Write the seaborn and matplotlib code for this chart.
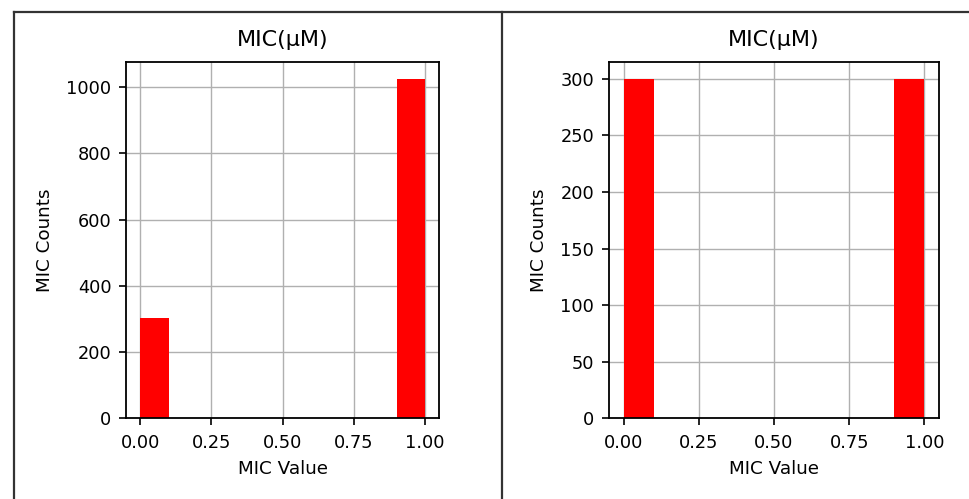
import numpy as np
import seaborn as sns
import matplotlib.pyplot as plt
from matplotlib.lines import Line2D

# MIC values (binary) and how often each one occurs
mic_values = [0.0, 1.0]
left_counts = [304, 1025]
right_counts = [300, 300]

title = "MIC(μM)"
xlabel = "MIC Value"
ylabel = "MIC Counts"

plt.rcParams['font.family'] = ['DejaVu Sans']
plt.rcParams['axes.linewidth'] = 1.3
plt.rcParams['xtick.major.width'] = 1.2
plt.rcParams['ytick.major.width'] = 1.2
plt.rcParams['xtick.major.size'] = 5
plt.rcParams['ytick.major.size'] = 5
plt.rcParams['xtick.major.pad'] = 6
plt.rcParams['ytick.major.pad'] = 5.5

fig = plt.figure(figsize=(9.69, 4.99), dpi=100)
ax1 = fig.add_axes([0.1300, 0.1617, 0.3233, 0.7146])
ax2 = fig.add_axes([0.6282, 0.1617, 0.3412, 0.7146])


def draw(ax, counts):
    sns.histplot(x=mic_values, weights=counts, bins=10, binrange=(0, 1),
                 color="#ff0000", alpha=1, linewidth=0, ax=ax)
    ax.grid(True, color="#b0b0b0", linewidth=1)
    ax.set_axisbelow(True)
    ax.set_title(title, fontsize=16, pad=11)
    ax.set_xlabel(xlabel, fontsize=13.2, labelpad=6)
    ax.set_ylabel(ylabel, fontsize=13.2, labelpad=9)
    ax.tick_params(labelsize=12.8)
    ax.set_xticks([0, 0.25, 0.5, 0.75, 1.0])
    ax.set_xlim(-0.05, 1.05)


draw(ax1, left_counts)
draw(ax2, right_counts)

# table-like frame around the two panels
W, H = 969, 499
frame = dict(color="#333333", linewidth=1.6, transform=fig.transFigure)
fig.add_artist(Line2D([13.5 / W, 1.0], [1 - 11.5 / H, 1 - 11.5 / H], **frame))
fig.add_artist(Line2D([13.5 / W, 13.5 / W], [0, 1 - 11.5 / H], **frame))
fig.add_artist(Line2D([502.3 / W, 502.3 / W], [0, 1 - 11.5 / H], **frame))

fig.savefig("out.png", dpi=100)
